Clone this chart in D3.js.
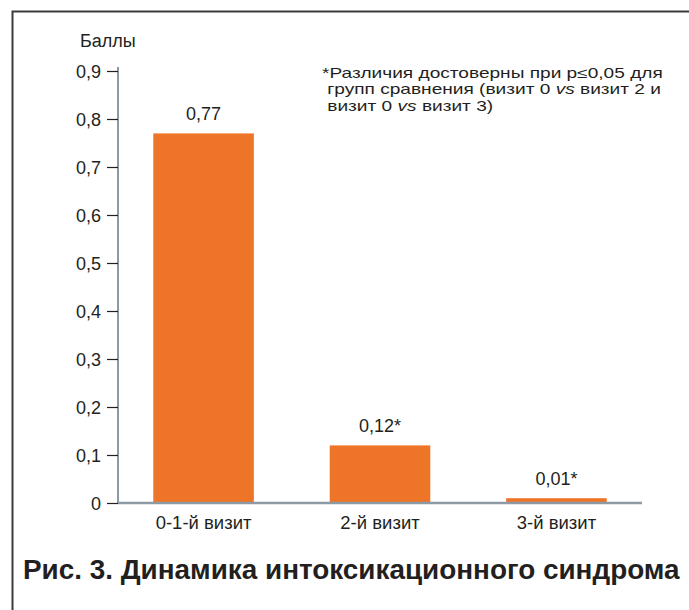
<!DOCTYPE html>
<html>
<head>
<meta charset="utf-8">
<script src="https://cdn.jsdelivr.net/npm/d3@7"></script>
<style>
  html, body { margin: 0; padding: 0; background: #fff; }
  svg { display: block; }
  text { font-family: "Liberation Sans", Arial, sans-serif; fill: #231f20; }
</style>
</head>
<body>
<svg id="chart" width="689" height="610"></svg>
<script>
// Intoxication syndrome score by visit
const categories = ["0-1-й визит", "2-й визит", "3-й визит"];
const values = [0.77, 0.12, 0.01];
const valueLabels = ["0,77", "0,12*", "0,01*"];
const yTicks = [0, 0.1, 0.2, 0.3, 0.4, 0.5, 0.6, 0.7, 0.8, 0.9];
// note lines: [text, italic] runs
const noteLines = [
  [["*Различия достоверны при p\u22640,05 для", false]],
  [[" групп сравнения (визит 0 ", false], ["vs", true], [" визит 2 и", false]],
  [[" визит 0 ", false], ["vs", true], [" визит 3)", false]]
];

const svg = d3.select("#chart");
const barColor = "#ee7427";
const axisColor = "#8d9aa5";
const fs = 18;

// frame
svg.append("path")
  .attr("d", "M12.5,610 V11.5 H689")
  .attr("fill", "none")
  .attr("stroke", "#3a3a3a")
  .attr("stroke-width", 2);

const x = d3.scaleBand().domain(categories).range([118, 642]).paddingInner(0.43).paddingOuter(0.2);
const y = d3.scaleLinear().domain([0, 0.9]).range([503, 71]);

// bars
svg.append("g").selectAll("rect").data(values).join("rect")
  .attr("x", (d, i) => x(categories[i]))
  .attr("width", x.bandwidth())
  .attr("y", d => y(d))
  .attr("height", d => y(0) - y(d))
  .attr("fill", barColor);

// value labels
svg.append("g").selectAll("text").data(values).join("text")
  .attr("x", (d, i) => x(categories[i]) + x.bandwidth() / 2)
  .attr("y", d => y(d) - 13)
  .attr("text-anchor", "middle")
  .attr("font-size", fs)
  .text((d, i) => valueLabels[i]);

// y axis
const yAxis = d3.axisLeft(y).tickValues(yTicks).tickSize(11).tickPadding(6)
  .tickFormat(d => d === 0 ? "0" : d3.format(".1f")(d).replace(".", ","));
const gy = svg.append("g").attr("transform", "translate(118,0)").call(yAxis);
gy.select(".domain").attr("d", "M0,67 V503").attr("stroke", axisColor).attr("stroke-width", 2);
gy.selectAll(".tick line").attr("stroke", "#231f20").attr("stroke-width", 1.2);
gy.selectAll(".tick text").attr("font-size", fs).attr("font-family", "Liberation Sans, Arial, sans-serif").attr("fill", "#231f20").attr("dy", "0.35em");

// x axis
const xAxis = d3.axisBottom(x).tickSize(0).tickPadding(13);
const gx = svg.append("g").attr("transform", "translate(0,503)").call(xAxis);
gx.select(".domain").attr("d", "M118,0 H642").attr("stroke", axisColor).attr("stroke-width", 2.5);
gx.selectAll(".tick text").attr("font-size", 18.5).attr("font-family", "Liberation Sans, Arial, sans-serif").attr("fill", "#231f20");

// axis title
svg.append("text").attr("x", 80).attr("y", 47).attr("font-size", fs).text("Баллы");

// significance note (horizontally stretched to its column width)
const note = svg.append("g");
const noteTexts = noteLines.map((runs, i) => {
  const t = note.append("text")
    .attr("x", 0)
    .attr("y", 78 + i * 16.5)
    .attr("font-size", 14.3)
    .style("white-space", "pre");
  runs.forEach(([s, it]) => {
    t.append("tspan").attr("font-style", it ? "italic" : "normal").text(s);
  });
  return t;
});
const nw = noteTexts[0].node().getComputedTextLength();
note.attr("transform", `translate(322,0) scale(${341 / nw},1)`);

// figure caption
const cap = svg.append("text")
  .attr("x", 23).attr("y", 579)
  .attr("font-family", "'DejaVu Sans', sans-serif")
  .attr("font-weight", "bold")
  .attr("font-size", 24)
  .text("Рис. 3. Динамика интоксикационного синдрома");
const w = cap.node().getComputedTextLength();
cap.attr("font-size", 24 * 657 / w);
</script>
</body>
</html>
